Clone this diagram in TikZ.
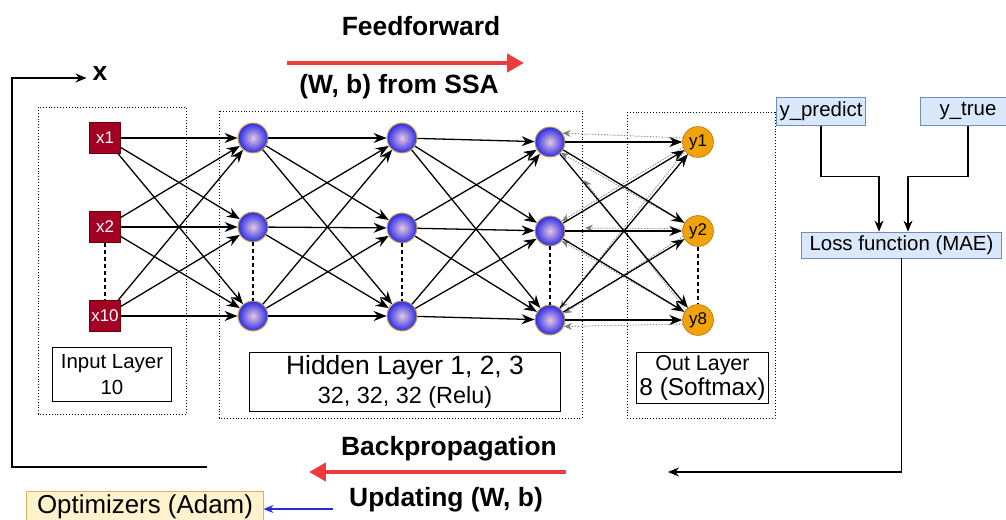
\documentclass[tikz,border=0pt]{standalone}
\usepackage{fontspec}
\setmainfont{Liberation Sans}
\usetikzlibrary{arrows.meta,calc}
\definecolor{inred}{HTML}{A20025}
\definecolor{indark}{HTML}{6F0000}
\definecolor{outor}{HTML}{F0A30A}
\definecolor{outbd}{HTML}{BD7000}
\definecolor{hidbd}{HTML}{C9A04A}
\definecolor{hidin}{HTML}{E6C8E0}
\definecolor{hidout}{HTML}{2A2AE6}
\definecolor{lblue}{HTML}{DAE8FC}
\definecolor{bblue}{HTML}{6C8EBF}
\definecolor{lyel}{HTML}{FFF2CC}
\definecolor{byel}{HTML}{D6B656}
\definecolor{redar}{HTML}{EE3B3B}
\definecolor{bluear}{HTML}{2B2BDD}
\definecolor{fbgray}{HTML}{808080}
\begin{document}
\begin{tikzpicture}[x=1bp,y=-1bp,
  inbox/.style={rectangle, fill=inred, draw=indark, line width=0.8, minimum size=31, inner sep=0, text=white, font=\fontsize{17}{17}\selectfont},
  hid/.style={circle, minimum size=30, inner sep=0, inner color=hidin, outer color=hidout, draw=hidbd, line width=1},
  outn/.style={circle, minimum size=31, inner sep=0, fill=outor, draw=outbd, line width=0.6, font=\fontsize{17}{17}\selectfont},
  con/.style={-{Stealth[length=13,width=10]}, line width=1.3},
  fb/.style={-{Stealth[length=8,width=7]}, draw=fbgray, fill=fbgray, dotted, line width=0.9},
  layerbox/.style={draw, dotted, line width=0.9},
  lab/.style={draw, line width=1.1, rectangle, inner sep=0, align=center},
  bluebox/.style={draw=bblue, fill=lblue, line width=0.9, rectangle, inner sep=0, font=\fontsize{20.5}{20.5}\selectfont},
  bold/.style={font=\bfseries\fontsize{26.5}{26.5}\selectfont},
  redarr/.style={draw=redar, line width=4.5, -{Triangle[length=17,width=18]}},
  parr/.style={line width=1.2, -{Stealth[length=11,width=9]}},
  dsh/.style={dashed, line width=1.3, dash pattern=on 4 off 3}
]
\useasboundingbox (0,0) rectangle (1006,520);

% layer frames
\draw[layerbox] (38,107) rectangle (186,414);
\draw[layerbox] (219,111) rectangle (582,418);
\draw[layerbox] (627,112) rectangle (775,418);

% input nodes
\node[inbox] (x1) at (105,138) {x1};
\node[inbox] (x2) at (105,227) {x2};
\node[inbox] (x10) at (105,316) {x10};

% hidden nodes
\node[hid] (h1a) at (253,138) {};
\node[hid] (h1b) at (253,227) {};
\node[hid] (h1c) at (253,316) {};
\node[hid] (h2a) at (402,138) {};
\node[hid] (h2b) at (402,228) {};
\node[hid] (h2c) at (402,316) {};
\node[hid] (h3a) at (550,142) {};
\node[hid] (h3b) at (550,231) {};
\node[hid] (h3c) at (550,320) {};

% output nodes
\node[outn] (y1) at (698,142) {y1};
\node[outn] (y2) at (698,231) {y2};
\node[outn] (y8) at (698,320) {y8};

% dashed ellipsis lines
\draw[dsh] (x2) -- (x10);
\draw[dsh] (h1b) -- (h1c);
\draw[dsh] (h2b) -- (h2c);
\draw[dsh] (h3b) -- (h3c);
\draw[dsh] (y2) -- (y8);

% feedback dotted arrows (output -> last hidden layer)
\draw[fb] (y1.165) -- (h3a.35);
\draw[fb] (y2.150) -- (h3a.-45);
\draw[fb, shorten >=36] (y8.140) -- (h3a.-40);
\draw[fb] (y1.200) -- (h3b.40);
\draw[fb, shorten >=20] (y2.172) -- (h3b.12);
\draw[fb] (y8.150) -- (h3b.-40);
\draw[fb] (y1.215) -- (h3c.50);
\draw[fb] (y2.200) -- (h3c.25);
\draw[fb] (y8.195) -- (h3c.-25);

% connections
\foreach \a in {x1,x2,x10}
  \foreach \b in {h1a,h1b,h1c}
    \draw[con] (\a) -- (\b);
\foreach \a in {h1a,h1b,h1c}
  \foreach \b in {h2a,h2b,h2c}
    \draw[con] (\a) -- (\b);
\foreach \a in {h2a,h2b,h2c}
  \foreach \b in {h3a,h3b,h3c}
    \draw[con] (\a) -- (\b);
\foreach \a in {h3a,h3b,h3c}
  \foreach \b in {y1,y2,y8}
    \draw[con] (\a) -- (\b);

% layer labels
\node[lab, minimum width=120, minimum height=55, font=\fontsize{20.5}{26}\selectfont] (inlab) at (112,374.5)
  {Input Layer\\10};
\node[lab, minimum width=312, minimum height=60, font=\fontsize{26.5}{28.5}\selectfont] (hidlab) at (405,382)
  {Hidden Layer 1, 2, 3\\{\fontsize{23.5}{28.5}\selectfont 32, 32, 32 (Relu)}};
\node[lab, minimum width=133, minimum height=52, font=\fontsize{21.5}{26}\selectfont] (outlab) at (702.5,378)
  {Out Layer\\{\fontsize{24.5}{26}\selectfont 8 (Softmax)}};

% loss part
\node[bluebox, minimum width=90, minimum height=29] (yp) at (821,111.5) {y\_predict};
\node[bluebox, minimum width=96, minimum height=29] (yt) at (968,111.5) {y\_true};
\node[bluebox, minimum width=201, minimum height=26] (loss) at (901.5,245) {Loss function (MAE)};
\draw[parr] (yp.south) |- ($(loss.north)+(-22.5,-55)$) -- ($(loss.north)+(-22.5,0)$);
\draw[parr] (yt.south) |- ($(loss.north)+(6.5,-55)$) -- ($(loss.north)+(6.5,0)$);
\coordinate (lossend) at (668,472);
\draw[parr] (loss.south) |- (lossend);

% titles and red arrows
\node[bold] (ff) at (421,26) {Feedforward};
\coordinate (ffs) at (287,63);
\coordinate (ffe) at (524,63);
\draw[redarr] (ffs) -- (ffe);
\node[bold] (ssa) at (399,87) {(W, b) from SSA};

\node[bold] (bp) at (449,449) {Backpropagation};
\coordinate (bps) at (566,472);
\coordinate (bpe) at (309,472);
\draw[redarr] (bps) -- (bpe);
\node[bold] (upd) at (446,500) {Updating (W, b)};

% optimizer
\node[draw=byel, fill=lyel, line width=0.9, rectangle, inner sep=0, minimum width=237, minimum height=30, font=\fontsize{26}{26}\selectfont] (opt) at (145,506.5) {Optimizers (Adam)};
\coordinate (opts) at (333,509);
\draw[draw=bluear, line width=1.1, -{Stealth[length=10,width=8]}] (opts) -- (opt.east |- opts);

% x feedback loop
\node[bold, inner sep=0] (xl) at (100,74) {x};
\coordinate (loopend) at (207,467);
\draw[parr] (loopend) -- (12,467) |- ([xshift=-6pt]xl.west |- 0,78);
\end{tikzpicture}
\end{document}
